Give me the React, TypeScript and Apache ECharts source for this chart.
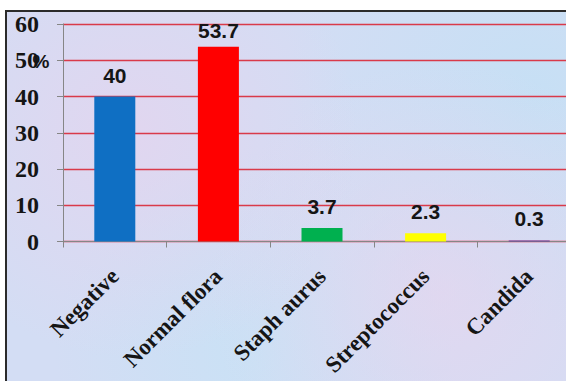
import React, { useEffect, useRef } from "react";
import * as echarts from "echarts";

// Swab culture results, percentage of samples
const categories = ["Negative", "Normal flora", "Staph aurus", "Streptococcus", "Candida"];
const percentages = [40, 53.7, 3.7, 2.3, 0.3];
const barColors = ["#0f6fc3", "#ff0000", "#00b04f", "#ffff00", "#6a3a9c"];
const yTicks = { min: 0, max: 60, step: 10 };

const serif = "'Times New Roman', 'Liberation Serif', serif";
const sans = "Arial, 'Liberation Sans', sans-serif";

export default function App() {
  const ref = useRef<HTMLDivElement>(null);

  useEffect(() => {
    if (!ref.current) return;
    const chart = echarts.init(ref.current, null, { renderer: "svg" });

    const data = percentages.map((v, i) => ({
      value: v,
      itemStyle: { color: barColors[i] },
      label: i === 1 ? { distance: 6 } : undefined,
    }));

    chart.setOption({
      animation: false,
      backgroundColor: "transparent",
      grid: { left: 56, right: 16, top: 10, bottom: 141.5 },
      xAxis: {
        type: "category",
        data: categories,
        axisLine: { show: true, lineStyle: { color: "#868686", width: 1 } },
        axisTick: { show: true, length: 6, lineStyle: { color: "#868686" } },
        axisLabel: {
          interval: 0,
          rotate: 45,
          margin: 31,
          fontFamily: serif,
          fontWeight: "bold",
          fontSize: 23,
          color: "#151515",
        },
      },
      yAxis: {
        type: "value",
        min: yTicks.min,
        max: yTicks.max,
        interval: yTicks.step,
        axisLine: { show: true, lineStyle: { color: "#868686", width: 1 } },
        axisTick: { show: true, length: 6, lineStyle: { color: "#868686" } },
        axisLabel: {
          margin: 24,
          fontFamily: serif,
          fontWeight: "bold",
          fontSize: 24,
          color: "#151515",
        },
        splitLine: { show: true, lineStyle: { color: "#d93a4a", width: 1.3 } },
      },
      graphic: [
        {
          type: "text",
          x: 34,
          y: 49.5,
          style: {
            text: "%",
            fontFamily: sans,
            fontWeight: "bold",
            fontSize: 19,
            fill: "#151515",
            textAlign: "center",
            textVerticalAlign: "middle",
          },
        },
      ],
      series: [
        {
          type: "bar",
          data,
          barWidth: 41,
          label: {
            show: true,
            position: "top",
            distance: 11,
            fontFamily: sans,
            fontWeight: "bold",
            fontSize: 21,
            color: "#151515",
          },
        },
      ],
    });

    return () => chart.dispose();
  }, []);

  return (
    <div
      style={{
        position: "fixed",
        left: 0,
        top: 0,
        width: 566,
        height: 381,
        overflow: "hidden",
        background: "#ffffff",
      }}
    >
      <div
        style={{
          position: "absolute",
          left: 5,
          top: 10,
          width: 620,
          height: 400,
          borderTop: "2px solid #2b2b2b",
          borderLeft: "2px solid #2b2b2b",
          background:
            "radial-gradient(circle at 20% 30%, rgba(236,208,236,0.55), rgba(236,208,236,0) 40%)," +
            "radial-gradient(circle at 70% 70%, rgba(238,210,236,0.5), rgba(238,210,236,0) 45%)," +
            "radial-gradient(circle at 85% 20%, rgba(190,225,245,0.6), rgba(190,225,245,0) 40%)," +
            "radial-gradient(circle at 40% 85%, rgba(195,228,246,0.6), rgba(195,228,246,0) 40%)," +
            "#d3ddf4",
        }}
      >
        <div ref={ref} style={{ position: "relative", width: 590, height: 371 }} />
      </div>
    </div>
  );
}
